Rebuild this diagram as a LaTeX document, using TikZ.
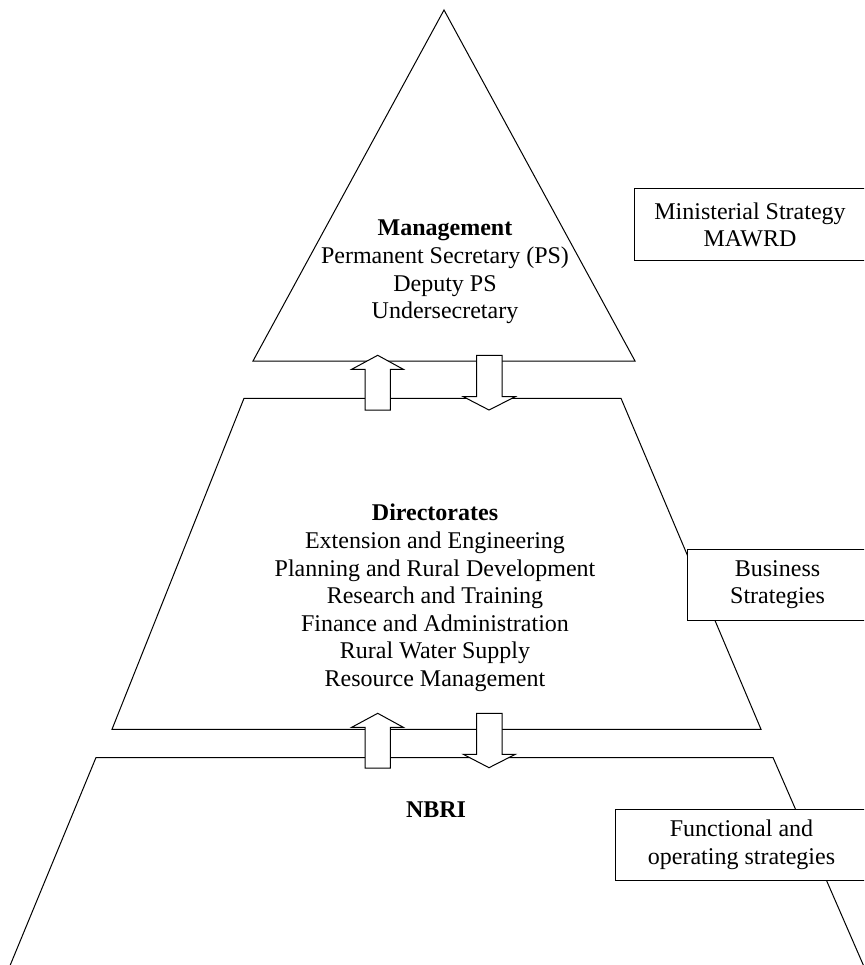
\documentclass[tikz,border=0pt]{standalone}
\usepackage{fontspec}
\setmainfont{Liberation Serif}
\begin{document}
\begin{tikzpicture}[x=1pt,y=-1pt,line width=1pt,line join=miter,
  txt/.style={font=\fontsize{24}{27.6}\selectfont,align=center,inner sep=0pt},
  blockarrow/.style={draw=black,fill=white},
  stratbox/.style={draw=black,fill=white,inner sep=0pt,align=center,font=\fontsize{24}{27.6}\selectfont}]
\useasboundingbox (0,0) rectangle (864,965);
\clip (0,0) rectangle (864,965);
% levels
\draw (444,10) -- (253,361) -- (635,361) -- cycle;
\draw (244,398.3) -- (621,398.3) -- (761,729.3) -- (112,729.3) -- cycle;
\draw (2,985) -- (96,757.5) -- (773,757.5) -- (872,985);
% block arrows
\draw[blockarrow] (365,410) -- (365,369.3) -- (351.7,369.3) -- (377.7,355.3) -- (403.3,369.3) -- (390.3,369.3) -- (390.3,410) -- cycle;
\draw[blockarrow] (476.7,355.3) -- (502,355.3) -- (502,396.7) -- (515.3,396.7) -- (489,410) -- (463.3,396.7) -- (476.7,396.7) -- cycle;
\draw[blockarrow] (365,768) -- (365,727.3) -- (351.7,727.3) -- (377.7,713.3) -- (403.3,727.3) -- (390.3,727.3) -- (390.3,768) -- cycle;
\draw[blockarrow] (476.7,713.3) -- (502,713.3) -- (502,754.3) -- (515.3,754.3) -- (489,767.7) -- (463.3,754.3) -- (476.7,754.3) -- cycle;
% strategy boxes
\node[stratbox,minimum width=232pt,minimum height=72pt] (ms) at (750,225) {Ministerial Strategy\\MAWRD};
\node[stratbox,minimum width=181pt,minimum height=71pt] (bs) at (777.5,584.5) {Business\\Strategies};
\node[stratbox,minimum width=253pt,minimum height=71pt] (fs) at (741.5,844.5) {Functional and\\operating strategies};
% texts
\node[txt] (mgmt) at (445,272) {\textbf{Management}\\Permanent Secretary (PS)\\Deputy PS\\Undersecretary};
\node[txt] (dir) at (435,598) {\textbf{Directorates}\\Extension and Engineering\\Planning and Rural Development\\Research and Training\\Finance and Administration\\Rural Water Supply\\Resource Management};
\node[txt] (nbri) at (436,810) {\textbf{NBRI}};
\end{tikzpicture}
\end{document}
